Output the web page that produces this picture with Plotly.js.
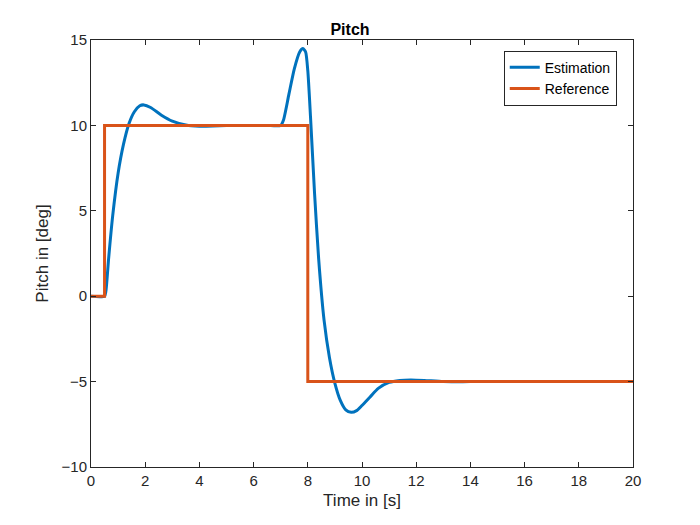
<!DOCTYPE html>
<html><head><script src="https://cdn.plot.ly/plotly-3.0.1.min.js"></script></head>
<body style="margin:0"><div id="c" style="width:700px;height:525px"></div>
<script>
const estT = [0,0.5,0.55,0.65,0.8,1.0,1.2,1.4,1.6,1.8,1.95,2.2,2.6,3.0,3.5,4.0,4.5,5.0,5.5,6.0,6.5,7.0,7.1,7.3,7.5,7.7,7.82,7.92,8.0,8.1,8.25,8.4,8.6,8.8,9.0,9.2,9.4,9.6,9.8,10.0,10.3,10.6,11.0,11.4,11.8,12.3,13,14,16,18,20];
const estV = [0,0,0.3,2.2,4.7,7.2,8.9,10.1,10.8,11.15,11.2,11.05,10.6,10.25,10.02,9.95,9.96,9.99,10.0,10.0,10.0,10.0,10.3,11.8,13.3,14.3,14.5,14.3,13.2,10.5,6.0,2.2,-1.4,-3.6,-5.1,-6.1,-6.65,-6.8,-6.7,-6.4,-5.9,-5.4,-5.05,-4.93,-4.9,-4.93,-5.0,-5.0,-5.0,-5.0,-5.0];
const refT = [0,0.5,0.5,8,8,20];
const refV = [0,0,10,10,-5,-5];
const ax = {showline:true,mirror:'ticks',ticks:'inside',ticklen:5,linecolor:'#262626',tickcolor:'#262626',showgrid:false,zeroline:false,tickfont:{size:15,color:'#262626'}};
Plotly.newPlot('c',[
 {x:estT,y:estV,name:'Estimation',mode:'lines',line:{color:'#0072BD',width:3,shape:'spline',smoothing:0.6}},
 {x:refT,y:refV,name:'Reference',mode:'lines',line:{color:'#D95319',width:3}}
],{
 width:700,height:525,margin:{l:91,r:67,t:40,b:58},
 font:{family:'Liberation Sans, Arial',color:'#262626'},
 title:{text:'<b>Pitch</b>',font:{size:16,color:'#000'},y:0.955,x:0.5,xanchor:'center'},
 xaxis:Object.assign({},ax,{range:[0,20],dtick:2,title:{text:'Time in [s]',font:{size:17},standoff:6}}),
 yaxis:Object.assign({},ax,{range:[-10,15],dtick:5,title:{text:'Pitch in [deg]',font:{size:17},standoff:8}}),
 legend:{x:0.97,y:0.975,xanchor:'right',yanchor:'top',bordercolor:'#262626',borderwidth:1,font:{size:14,color:'#000'},bgcolor:'#fff'},
 plot_bgcolor:'#fff',paper_bgcolor:'#fff',showlegend:true
},{staticPlot:true});
</script></body></html>
